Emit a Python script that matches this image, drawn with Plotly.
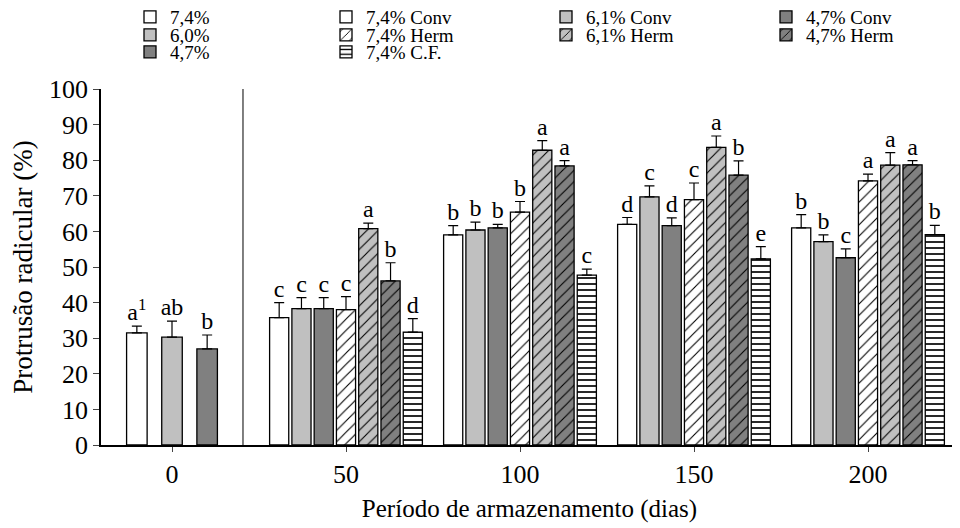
import plotly.graph_objects as go

# ---------------- data ----------------
days0 = [0]
series0 = ["7,4%", "6,0%", "4,7%"]
vals0 = [31.5, 30.3, 27.0]
errs0 = [1.9, 4.5, 3.9]
letters0 = ["a<sup>1</sup>", "ab", "b"]

days = [50, 100, 150, 200]
series = ["7,4% Conv", "6,1% Conv", "4,7% Conv", "7,4% Herm", "6,1% Herm", "4,7% Herm", "7,4% C.F."]
vals = {
    "7,4% Conv": [35.8, 59.0, 62.0, 61.0],
    "6,1% Conv": [38.3, 60.4, 69.7, 57.1],
    "4,7% Conv": [38.3, 61.0, 61.6, 52.6],
    "7,4% Herm": [38.0, 65.4, 68.9, 74.2],
    "6,1% Herm": [60.8, 82.8, 83.6, 78.6],
    "4,7% Herm": [46.1, 78.4, 75.8, 78.7],
    "7,4% C.F.": [31.7, 47.7, 52.3, 59.1],
}
errs = {
    "7,4% Conv": [4.2, 2.6, 1.9, 3.7],
    "6,1% Conv": [3.1, 2.2, 3.1, 1.9],
    "4,7% Conv": [3.1, 1.0, 2.2, 2.5],
    "7,4% Herm": [3.7, 3.0, 4.7, 1.9],
    "6,1% Herm": [1.5, 2.7, 3.2, 3.5],
    "4,7% Herm": [5.1, 1.5, 4.0, 1.2],
    "7,4% C.F.": [3.8, 1.7, 3.4, 2.6],
}
letters = {
    "7,4% Conv": ["c", "b", "d", "b"],
    "6,1% Conv": ["c", "b", "c", "b"],
    "4,7% Conv": ["c", "b", "d", "c"],
    "7,4% Herm": ["c", "b", "c", "a"],
    "6,1% Herm": ["a", "a", "a", "a"],
    "4,7% Herm": ["b", "a", "b", "a"],
    "7,4% C.F.": ["d", "c", "e", "b"],
}
xticks = [0, 50, 100, 150, 200]

# ---------------- styles ----------------
FONT = "Liberation Serif"
WHITE, LIGHT, DARK = "#ffffff", "#c0c0c0", "#808080"
style0 = {
    "7,4%": dict(color=WHITE, shape=""),
    "6,0%": dict(color=LIGHT, shape=""),
    "4,7%": dict(color=DARK, shape=""),
}
style = {
    "7,4% Conv": dict(color=WHITE, shape=""),
    "6,1% Conv": dict(color=LIGHT, shape=""),
    "4,7% Conv": dict(color=DARK, shape=""),
    "7,4% Herm": dict(color=WHITE, shape="/"),
    "6,1% Herm": dict(color=LIGHT, shape="/"),
    "4,7% Herm": dict(color=DARK, shape="/"),
    "7,4% C.F.": dict(color=WHITE, shape="-"),
}
# legend placement in page pixels: (text-left, row-centre)
legpos = {
    "7,4%": (170, 17), "6,0%": (170, 35), "4,7%": (170, 52),
    "7,4% Conv": (366, 17), "7,4% Herm": (366, 35), "7,4% C.F.": (366, 52),
    "6,1% Conv": (586, 17), "6,1% Herm": (586, 35),
    "4,7% Conv": (806, 17), "4,7% Herm": (806, 35),
}

# the page body has an 8px default margin; size the figure so it fills the 960x528 view
OFF = 8
W, H = 960 - OFF, 528 - OFF
ML, MR, MT, MB = 101 - OFF, 2, 89 - OFF, 83
PW, PH = W - ML - MR, H - MT - MB

SP0, BW0 = 10.1, 5.9     # day-0 spacing / width (days)
SP, BW = 6.4, 5.5        # grouped spacing / width (days)

fig = go.Figure()
legend_layouts = {}


def pattern(st, size, sol):
    if st["shape"] == "":
        return dict(shape="")
    return dict(shape=st["shape"], fgcolor="black", bgcolor=st["color"],
                size=size, solidity=sol, fillmode="replace")


def add_series(name, xs, ys, es, lets, st, width, idx):
    lname = "legend" if idx == 1 else f"legend{idx}"
    size, sol = (8, 0.14) if st["shape"] == "/" else (6, 0.28)
    fig.add_trace(go.Bar(
        x=xs, y=ys, width=width, name=name, legend=lname,
        marker=dict(color=st["color"], line=dict(color="black", width=1.3),
                    pattern=pattern(st, size, sol)),
        error_y=dict(type="data", array=es, arrayminus=[0] * len(es), symmetric=False,
                     color="black", thickness=1.2, width=5),
    ))
    fig.add_trace(go.Scatter(
        x=xs, y=[y + e for y, e in zip(ys, es)], mode="text", text=lets,
        textposition="top center", textfont=dict(family=FONT, size=24, color="black"),
        showlegend=False, hoverinfo="skip", cliponaxis=False,
    ))
    tx, ty = legpos[name]
    tx -= OFF
    ty -= OFF
    legend_layouts[lname] = dict(
        x=(tx - 40 - ML) / PW, y=(H - MB - ty) / PH, xanchor="left", yanchor="middle",
        bgcolor="rgba(0,0,0,0)", borderwidth=0, tracegroupgap=0,
        font=dict(family=FONT, size=19, color="black"),
    )


idx = 1
for i, name in enumerate(series0):
    xs = [d + (i - 1) * SP0 for d in days0]
    add_series(name, xs, [vals0[i]], [errs0[i]], [letters0[i]], style0[name], BW0, idx)
    idx += 1
for i, name in enumerate(series):
    xs = [d + (i - 3) * SP for d in days]
    add_series(name, xs, vals[name], errs[name], letters[name], style[name], BW, idx)
    idx += 1

xmin = -(172 - 101) / 3.48
xmax = xmin + PW / 3.48
SEP = 20.4

fig.add_shape(type="line", xref="x", yref="paper", x0=SEP, x1=SEP, y0=0, y1=1,
              line=dict(color="black", width=1))

fig.update_layout(
    width=W, height=H, margin=dict(l=ML, r=MR, t=MT, b=MB, autoexpand=False),
    plot_bgcolor="white", paper_bgcolor="white", barmode="overlay",
    font=dict(family=FONT, size=24, color="black"),
    xaxis=dict(range=[xmin, xmax], tickvals=xticks, ticks="outside", ticklen=5,
               showline=True, linecolor="black", linewidth=1.5, showgrid=False,
               zeroline=False, tickfont=dict(family=FONT, size=26),
               title=dict(text="Período de armazenamento (dias)", font=dict(family=FONT, size=25),
                          standoff=12)),
    yaxis=dict(range=[0, 100], dtick=10, ticks="outside", ticklen=6,
               showline=True, linecolor="black", linewidth=1.5, showgrid=False,
               zeroline=False, tickfont=dict(family=FONT, size=26),
               title=dict(text="Protrusão radicular (%)", font=dict(family=FONT, size=27),
                          standoff=10)),
    **legend_layouts,
)

fig.write_html("out.html")
